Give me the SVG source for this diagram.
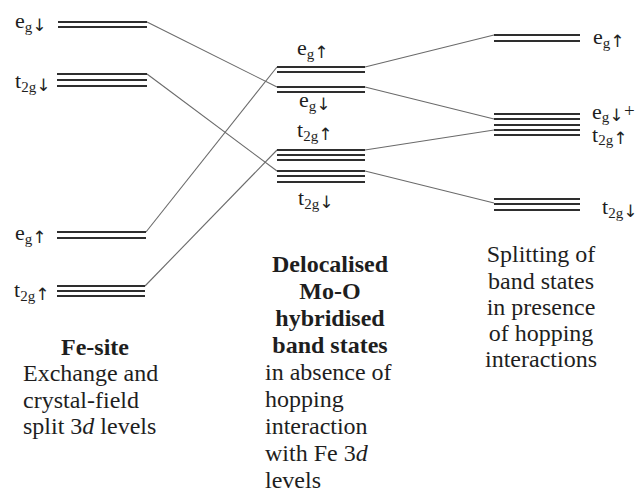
<svg xmlns="http://www.w3.org/2000/svg" width="638" height="493" viewBox="0 0 638 493" font-family="'Liberation Serif', 'DejaVu Serif', serif">
<style>
.lv{stroke:#2e2e2e;stroke-width:1.8;fill:none}
.cn{stroke:#6a6a6a;stroke-width:1.1;fill:none}
text{fill:#1e1e1e}
.lb{font-size:22px}
.sb{font-size:15px}
.ar{font-size:17px;font-family:"DejaVu Sans",sans-serif}
.cap{font-size:24px}
.b{font-weight:bold}
</style>
<rect width="638" height="493" fill="#ffffff"/>
<g id="connectors">
<line class="cn" x1="147" y1="22" x2="277" y2="87"/>
<line class="cn" x1="147" y1="74" x2="277" y2="171"/>
<line class="cn" x1="146" y1="232" x2="277" y2="67"/>
<line class="cn" x1="145" y1="286" x2="277" y2="150"/>
<line class="cn" x1="365" y1="67" x2="494" y2="35"/>
<line class="cn" x1="365" y1="87" x2="494" y2="119"/>
<line class="cn" x1="365" y1="150" x2="494" y2="130"/>
<line class="cn" x1="365" y1="171" x2="494" y2="203"/>
</g>
<g id="fe-eg-down">
<line class="lv" x1="58" y1="22" x2="147" y2="22"/>
<line class="lv" x1="58" y1="27" x2="147" y2="27"/>
<text class="lb" x="15" y="28">e<tspan class="sb" dy="4">g</tspan><tspan class="ar" dy="-1">↓</tspan></text>
</g>
<g id="fe-t2g-down">
<line class="lv" x1="57" y1="74" x2="147" y2="74"/>
<line class="lv" x1="57" y1="80" x2="147" y2="80"/>
<line class="lv" x1="57" y1="86" x2="147" y2="86"/>
<text class="lb" x="15" y="88">t<tspan class="sb" dy="4">2g</tspan><tspan class="ar" dy="-1">↓</tspan></text>
</g>
<g id="fe-eg-up">
<line class="lv" x1="57" y1="232" x2="146" y2="232"/>
<line class="lv" x1="57" y1="238" x2="146" y2="238"/>
<text class="lb" x="15" y="240">e<tspan class="sb" dy="4">g</tspan><tspan class="ar" dy="-1">↑</tspan></text>
</g>
<g id="fe-t2g-up">
<line class="lv" x1="57" y1="286" x2="145" y2="286"/>
<line class="lv" x1="57" y1="291" x2="145" y2="291"/>
<line class="lv" x1="57" y1="296" x2="145" y2="296"/>
<text class="lb" x="14" y="297">t<tspan class="sb" dy="4">2g</tspan><tspan class="ar" dy="-1">↑</tspan></text>
</g>
<g id="mo-eg-up">
<line class="lv" x1="277" y1="67" x2="365" y2="67"/>
<line class="lv" x1="277" y1="72" x2="365" y2="72"/>
<text class="lb" x="297" y="55">e<tspan class="sb" dy="4">g</tspan><tspan class="ar" dy="-1">↑</tspan></text>
</g>
<g id="mo-eg-down">
<line class="lv" x1="277" y1="87" x2="365" y2="87"/>
<line class="lv" x1="277" y1="92" x2="365" y2="92"/>
<text class="lb" x="299" y="107">e<tspan class="sb" dy="4">g</tspan><tspan class="ar" dy="-1">↓</tspan></text>
</g>
<g id="mo-t2g-up">
<line class="lv" x1="277" y1="150" x2="365" y2="150"/>
<line class="lv" x1="277" y1="155" x2="365" y2="155"/>
<line class="lv" x1="277" y1="160" x2="365" y2="160"/>
<text class="lb" x="297" y="137">t<tspan class="sb" dy="4">2g</tspan><tspan class="ar" dy="-1">↑</tspan></text>
</g>
<g id="mo-t2g-down">
<line class="lv" x1="277" y1="171" x2="365" y2="171"/>
<line class="lv" x1="277" y1="176" x2="365" y2="176"/>
<line class="lv" x1="277" y1="182" x2="365" y2="182"/>
<text class="lb" x="298" y="205">t<tspan class="sb" dy="4">2g</tspan><tspan class="ar" dy="-1">↓</tspan></text>
</g>
<g id="split-eg-up">
<line class="lv" x1="494" y1="35" x2="580" y2="35"/>
<line class="lv" x1="494" y1="41" x2="580" y2="41"/>
<text class="lb" x="593" y="44">e<tspan class="sb" dy="4">g</tspan><tspan class="ar" dy="-1">↑</tspan></text>
</g>
<g id="split-mixed">
<line class="lv" x1="494" y1="114" x2="580" y2="114"/>
<line class="lv" x1="494" y1="119" x2="580" y2="119"/>
<line class="lv" x1="494" y1="125" x2="580" y2="125"/>
<line class="lv" x1="494" y1="130" x2="580" y2="130"/>
<line class="lv" x1="494" y1="135" x2="580" y2="135"/>
<text class="lb" x="592" y="119">e<tspan class="sb" dy="3">g</tspan><tspan class="ar" dy="-1">↓</tspan><tspan x="624" y="117" font-size="19">+</tspan></text>
<text class="lb" x="592" y="142">t<tspan class="sb" dy="3">2g</tspan><tspan class="ar" dy="-1">↑</tspan></text>
</g>
<g id="split-t2g-down">
<line class="lv" x1="494" y1="199" x2="580" y2="199"/>
<line class="lv" x1="494" y1="204" x2="580" y2="204"/>
<line class="lv" x1="494" y1="210" x2="580" y2="210"/>
<text class="lb" x="602" y="214">t<tspan class="sb" dy="4">2g</tspan><tspan class="ar" dy="-1">↓</tspan></text>
</g>
<g id="caption-fe">
<text class="cap b" x="95" y="355" text-anchor="middle">Fe-site</text>
<text class="cap" x="23" y="381">Exchange and</text>
<text class="cap" x="23" y="408">crystal-field</text>
<text class="cap" x="23" y="434">split 3<tspan font-style="italic">d</tspan> levels</text>
</g>
<g id="caption-mo">
<text class="cap b" x="330" y="272" text-anchor="middle">Delocalised</text>
<text class="cap b" x="330" y="299" text-anchor="middle">Mo-O</text>
<text class="cap b" x="330" y="326" text-anchor="middle">hybridised</text>
<text class="cap b" x="330" y="353" text-anchor="middle">band states</text>
<text class="cap" x="265" y="380">in absence of</text>
<text class="cap" x="265" y="407">hopping</text>
<text class="cap" x="265" y="434">interaction</text>
<text class="cap" x="265" y="461">with Fe 3<tspan font-style="italic">d</tspan></text>
<text class="cap" x="265" y="488">levels</text>
</g>
<g id="caption-split">
<text class="cap" x="541" y="262" text-anchor="middle">Splitting of</text>
<text class="cap" x="541" y="289" text-anchor="middle">band states</text>
<text class="cap" x="541" y="315" text-anchor="middle">in presence</text>
<text class="cap" x="541" y="341" text-anchor="middle">of hopping</text>
<text class="cap" x="541" y="367" text-anchor="middle">interactions</text>
</g>
</svg>
